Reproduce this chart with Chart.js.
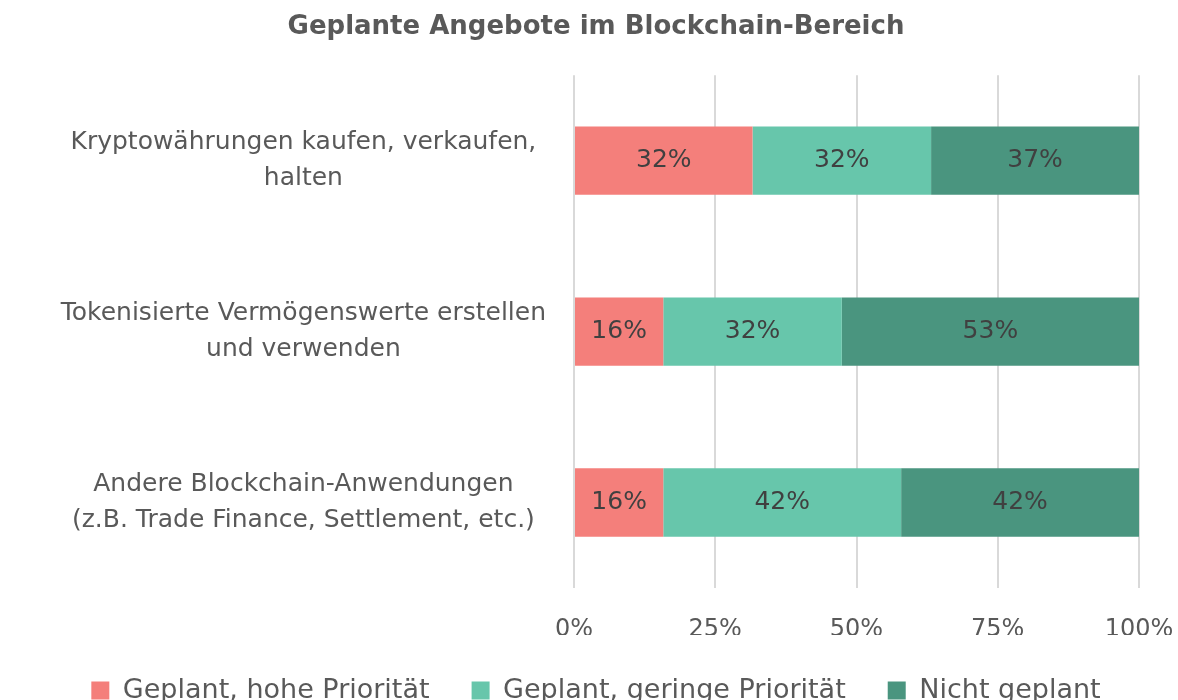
<!DOCTYPE html>
<html>
<head>
<meta charset="utf-8">
<script src="https://cdn.jsdelivr.net/npm/chart.js@4.4.1/dist/chart.umd.min.js"></script>
<style>
  html, body { margin: 0; padding: 0; background: #fff; }
  #wrap { width: 1178px; height: 700px; }
</style>
</head>
<body>
<div id="wrap"><canvas id="myChart" width="1178" height="700"></canvas></div>
<script>
    // chart data
    var categories = [
        ['Kryptowährungen kaufen, verkaufen,', 'halten'],
        ['Tokenisierte Vermögenswerte erstellen', 'und verwenden'],
        ['Andere Blockchain-Anwendungen', '(z.B. Trade Finance, Settlement, etc.)']
    ];
    var seriesNames = ['Geplant, hohe Priorität', 'Geplant, geringe Priorität', 'Nicht geplant'];
    var hohe = [31.6, 15.8, 15.8];
    var geringe = [31.6, 31.6, 42.1];
    var nicht = [36.8, 52.6, 42.1];
    var tickValues = [0, 25, 50, 75, 100];

    var colors = ['#F47F7B', '#67C6AB', '#4A957F'];
    var font = "'DejaVu Sans', sans-serif";

    // draws the percent value in the middle of every bar segment
    var barLabels = {
        id: 'barLabels',
        afterDatasetsDraw: function(chart){
            var ctx = chart.ctx;
            ctx.save();
            ctx.font = '25px ' + font;
            ctx.fillStyle = '#404040';
            ctx.textAlign = 'center';
            ctx.textBaseline = 'middle';
            chart.data.datasets.forEach(function(ds, i){
                var meta = chart.getDatasetMeta(i);
                meta.data.forEach(function(bar, j){
                    var p = bar.getCenterPoint();
                    ctx.fillText(Math.round(ds.data[j]) + '%', p.x, p.y);
                });
            });
            ctx.restore();
        }
    };

    var ctx = document.getElementById('myChart').getContext('2d');
    var myChart = new Chart(ctx, {
        type: 'bar',
        data: {
            labels: categories,
            datasets: [
                { label: seriesNames[0], data: hohe, backgroundColor: colors[0] },
                { label: seriesNames[1], data: geringe, backgroundColor: colors[1] },
                { label: seriesNames[2], data: nicht, backgroundColor: colors[2] }
            ]
        },
        options: {
            indexAxis: 'y',
            responsive: false,
            animation: false,
            barPercentage: 0.4,
            categoryPercentage: 1,
            layout: { padding: { left: 14, right: 0, top: 0, bottom: 0 } },
            scales: {
                x: {
                    stacked: true,
                    min: 0,
                    max: 100,
                    afterBuildTicks: function(scale){
                        scale.ticks = tickValues.map(function(v){ return { value: v }; });
                    },
                    afterFit: function(scale){
                        scale.height = 47;
                        scale.paddingRight = 39;
                    },
                    grid: { color: '#D9D9D9', lineWidth: 2, drawTicks: false },
                    border: { display: false },
                    ticks: {
                        padding: 27,
                        color: '#595959',
                        font: { family: font, size: 24 },
                        callback: function(v){ return v + '%'; }
                    }
                },
                y: {
                    stacked: true,
                    grid: { display: false, drawTicks: false },
                    border: { display: false },
                    afterFit: function(scale){ scale.width = 560; },
                    ticks: {
                        padding: 28,
                        crossAlign: 'center',
                        color: '#595959',
                        font: { family: font, size: 25, lineHeight: 1.45 }
                    }
                }
            },
            plugins: {
                title: {
                    display: true,
                    text: 'Geplante Angebote im Blockchain-Bereich',
                    color: '#595959',
                    font: { family: font, size: 26, weight: 'bold' },
                    padding: { top: 12, bottom: 32 }
                },
                legend: {
                    position: 'bottom',
                    maxHeight: 65,
                    labels: {
                        boxWidth: 18,
                        boxHeight: 18,
                        padding: 42,
                        color: '#595959',
                        font: { family: font, size: 27, lineHeight: 0.6 }
                    }
                },
                tooltip: { enabled: false }
            }
        },
        plugins: [barLabels]
    });
</script>
</body>
</html>
